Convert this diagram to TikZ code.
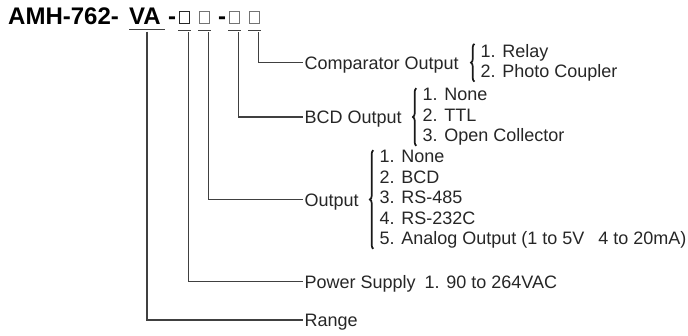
\documentclass[tikz,border=0pt]{standalone}
\usepackage{fontspec}
\setmainfont{Liberation Sans}
\usetikzlibrary{positioning,calc,decorations.pathreplacing}

\begin{document}
\begin{tikzpicture}[x=1pt,y=-1pt,
		ln/.style={black!75,line width=1.1pt},
		ttl/.style={font=\fontsize{24}{24}\selectfont\bfseries,inner sep=0pt,anchor=base west},
		slot/.style={draw=black!55,line width=1.1pt,minimum width=10pt,minimum height=12pt,inner sep=0pt},
		lbl/.style={font=\fontsize{18}{20.5}\selectfont,text=black!85,text height=13pt,text depth=0pt,inner sep=1.5pt,anchor=west},
		opts/.style={font=\fontsize{18}{20.5}\selectfont,text=black!85,align=left,inner sep=1pt,
			execute at begin node={\rule{0pt}{16pt}},execute at end node={\rule[-3pt]{0pt}{3pt}}},
		brc/.style={black!90,line width=1.7pt,decorate,decoration={brace,amplitude=3.5pt,aspect=0.5}}]
			\useasboundingbox (0,0) rectangle (688,335);

			% Model code
			\node[ttl] (model) at (8,24.5) {AMH-762-};
			\node[ttl] (va) at (129,24.5) {VA};
			\node[ttl] (d1) at (168,24.5) {-};
			\node[slot,draw=black!85] (b1) at (184.5,17.5) {};
			\node[slot] (b2) at (204.5,17.5) {};
			\node[ttl] (d2) at (218,24.5) {-};
			\node[slot] (b3) at (234.5,17.5) {};
			\node[slot] (b4) at (254.5,17.5) {};

			% Underlines
			\draw[ln] ([yshift=-5pt]va.base west) -- ([xshift=4pt,yshift=-5pt]va.base east);
			\foreach \b in {b1,b2,b3,b4}
				\draw[ln] ([xshift=-0.5pt,yshift=-6pt]\b.south west) -- ([xshift=0.5pt,yshift=-6pt]\b.south east);

			% Labels
			\node[lbl] (cmp) at (303,62.7) {Comparator Output};
			\node[lbl] (bcd) at (303,117) {BCD Output};
			\node[lbl] (out) at (303,199.5) {Output};
			\node[lbl] (pwr) at (303,281.5) {Power Supply\hspace{9pt}1. 90 to 264VAC};
			\node[lbl] (rng) at (303,320) {Range};

			% Options
			\node[opts,right=19pt of cmp] (cmpl) {1. Relay\\2. Photo Coupler};
			\node[opts,right=18pt of bcd] (bcdl) {1. None\\2. TTL\\3. Open Collector};
			\node[opts,right=18pt of out] (outl) {1. None\\2. BCD\\3. RS-485\\4. RS-232C\\5. Analog Output (1 to 5V\hspace{14pt}4 to 20mA)};

			% Braces
			\draw[brc] ([xshift=-5pt,yshift=1pt]cmpl.south west) -- ([xshift=-5pt,yshift=-1pt]cmpl.north west);
			\draw[brc] ([xshift=-5pt,yshift=1pt]bcdl.south west) -- ([xshift=-5pt,yshift=-1pt]bcdl.north west);
			\draw[brc] ([xshift=-5pt,yshift=1pt]outl.south west) -- ([xshift=-5pt,yshift=-1pt]outl.north west);

			% Leaders
			\coordinate (v0) at ($([yshift=-5pt]va.base west)!0.5!([xshift=4pt,yshift=-5pt]va.base east)+(0,2)$);
			\coordinate (v1) at ([xshift=-1.5pt,yshift=-8pt]b1.south east);
			\coordinate (v2) at ([xshift=-1.5pt,yshift=-8pt]b2.south east);
			\coordinate (v3) at ([xshift=-1.5pt,yshift=-8pt]b3.south east);
			\coordinate (v4) at ([xshift=-1.5pt,yshift=-8pt]b4.south east);
			\draw[ln] (v0) |- (rng.west);
			\draw[ln] (v1) |- (pwr.west);
			\draw[ln] (v2) |- (out.west);
			\draw[ln] (v3) |- (bcd.west);
			\draw[ln] (v4) |- (cmp.west);
		\end{tikzpicture}
\end{document}
